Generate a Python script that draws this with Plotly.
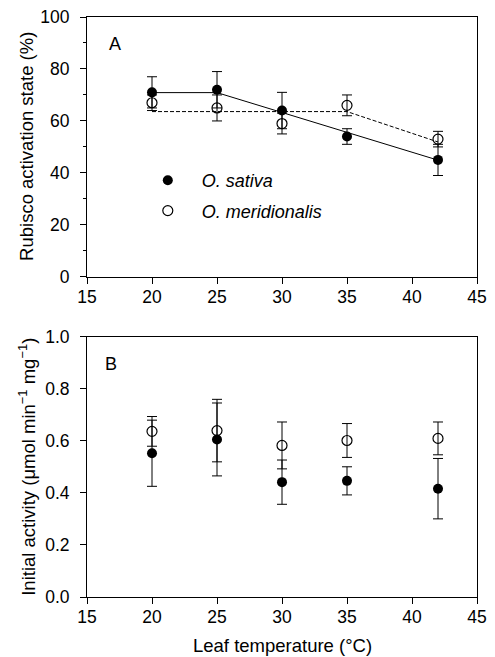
import plotly.graph_objects as go

# ---- data ----
temps = [20, 25, 30, 35, 42]

sativa_act = [71, 72, 64, 54, 45]
sativa_act_err = [6, 7, 7, 3, 6]
merid_act = [67, 65, 59, 66, 53]
merid_act_err = [3, 5, 4, 4, 3]

sativa_fit_x = [20, 25, 42]
sativa_fit_y = [70.9, 70.9, 44.9]
merid_fit_x = [20, 35, 42]
merid_fit_y = [63.6, 63.6, 51.9]

sativa_init = [0.552, 0.605, 0.441, 0.446, 0.416]
sativa_init_err = [0.127, 0.14, 0.085, 0.054, 0.116]
merid_init = [0.636, 0.639, 0.582, 0.601, 0.609]
merid_init_err = [0.057, 0.12, 0.09, 0.065, 0.063]

FONT = "Liberation Sans, Arial, sans-serif"
BLACK = "black"

fig = go.Figure()

# fitted lines (panel A)
fig.add_trace(go.Scatter(x=sativa_fit_x, y=sativa_fit_y, mode="lines",
                         line=dict(color=BLACK, width=1), showlegend=False,
                         xaxis="x", yaxis="y"))
fig.add_trace(go.Scatter(x=merid_fit_x, y=merid_fit_y, mode="lines",
                         line=dict(color=BLACK, width=1, dash="4px,2px"), showlegend=False,
                         xaxis="x", yaxis="y"))

eb = lambda arr: dict(type="data", array=arr, visible=True, color=BLACK, thickness=1, width=5)

# panel A points
fig.add_trace(go.Scatter(x=temps, y=sativa_act, mode="markers", name="<i>O. sativa</i>",
                         marker=dict(symbol="circle", size=10, color=BLACK),
                         error_y=eb(sativa_act_err), legendgroup="a",
                         xaxis="x", yaxis="y"))
fig.add_trace(go.Scatter(x=temps, y=merid_act, mode="markers", name="<i>O. meridionalis</i>",
                         marker=dict(symbol="circle-open", size=10, color=BLACK, line=dict(width=1.2, color=BLACK)),
                         error_y=eb(merid_act_err), legendgroup="b",
                         xaxis="x", yaxis="y"))

# panel B points
fig.add_trace(go.Scatter(x=temps, y=sativa_init, mode="markers", showlegend=False,
                         marker=dict(symbol="circle", size=10, color=BLACK),
                         error_y=eb(sativa_init_err), xaxis="x2", yaxis="y2"))
fig.add_trace(go.Scatter(x=temps, y=merid_init, mode="markers", showlegend=False,
                         marker=dict(symbol="circle-open", size=10, color=BLACK, line=dict(width=1.2, color=BLACK)),
                         error_y=eb(merid_init_err), xaxis="x2", yaxis="y2"))

tickfont = dict(family=FONT, size=17.5, color=BLACK)
titlefont = dict(family=FONT, size=18.5, color=BLACK)

xcommon = dict(range=[15, 45], tick0=15, dtick=5, ticks="outside", ticklen=6, tickwidth=1,
               tickcolor=BLACK, showline=True, linecolor=BLACK, linewidth=1, mirror=True,
               showgrid=False, zeroline=False, tickfont=tickfont, domain=[0, 1],
               automargin=False, ticklabelposition="outside", ticklabelstandoff=-2)
ycommon = dict(ticks="outside", ticklen=6, tickwidth=1, tickcolor=BLACK,
               showline=True, linecolor=BLACK, linewidth=1, mirror=True, showgrid=False,
               zeroline=False, tickfont=tickfont, automargin=False,
               ticklabelposition="outside", ticklabelstandoff=7)
overlay = dict(ticks="inside", ticklen=6, tickcolor=BLACK, showticklabels=False,
               showgrid=False, zeroline=False, showline=False, automargin=False)

fig.update_layout(
    width=495, height=657,
    margin=dict(l=87, r=18, t=17, b=60),
    paper_bgcolor="white", plot_bgcolor="white",
    font=dict(family=FONT, color=BLACK),
    xaxis=dict(**xcommon, anchor="y"),
    yaxis=dict(**ycommon, range=[0, 100], dtick=20, domain=[0.552, 1], anchor="x",
               minor=dict(dtick=10, ticks="outside", ticklen=3, tickcolor=BLACK, showgrid=False)),
    xaxis2=dict(**xcommon, anchor="y2"),
    yaxis2=dict(**ycommon, range=[0, 1.0], dtick=0.2, tickformat=".1f", domain=[0, 0.449],
                anchor="x2"),
    # mirrored inside ticks on top / right
    xaxis3=dict(**overlay, range=[15, 45], tick0=15, dtick=5, overlaying="x", side="top", anchor="y"),
    yaxis3=dict(**overlay, range=[0, 100], dtick=20,
                minor=dict(dtick=10, ticks="inside", ticklen=3, tickcolor=BLACK, showgrid=False),
                overlaying="y", side="right", anchor="x"),
    xaxis4=dict(**overlay, range=[15, 45], tick0=15, dtick=5, overlaying="x2", side="top", anchor="y2"),
    yaxis4=dict(**overlay, range=[0, 1.0], dtick=0.2, overlaying="y2", side="right", anchor="x2"),
    legend=dict(x=0.120, y=0.750, xanchor="left", yanchor="top", bgcolor="rgba(0,0,0,0)",
                font=dict(family=FONT, size=18, color=BLACK), tracegroupgap=4,
                traceorder="grouped", itemwidth=58),
    annotations=[
        dict(text="A", xref="x domain", yref="y domain", x=0.05, y=0.896, xanchor="left",
             yanchor="middle", showarrow=False, font=dict(family=FONT, size=18, color=BLACK)),
        dict(text="B", xref="x2 domain", yref="y2 domain", x=0.04, y=0.896, xanchor="left",
             yanchor="middle", showarrow=False, font=dict(family=FONT, size=18, color=BLACK)),
        # axis titles
        dict(text="Rubisco activation state (%)", textangle=-90, xref="paper", yref="y domain",
             x=0, y=0.5, xanchor="center", yanchor="middle", xshift=-60, showarrow=False,
             font=titlefont),
        dict(text="Initial activity (μmol min<sup>−1</sup> mg<sup>−1</sup>)", textangle=-90,
             xref="paper", yref="y2 domain", x=0, y=0.5, xanchor="center", yanchor="middle",
             xshift=-60, showarrow=False, font=titlefont),
        dict(text="Leaf temperature (°C)", xref="x2 domain", yref="paper", x=0.5, y=0,
             xanchor="center", yanchor="middle", yshift=-48, showarrow=False, font=titlefont),
    ],
)

fig.write_html("out.html", config={"displayModeBar": False},
               post_script="document.body.style.margin='0';")
